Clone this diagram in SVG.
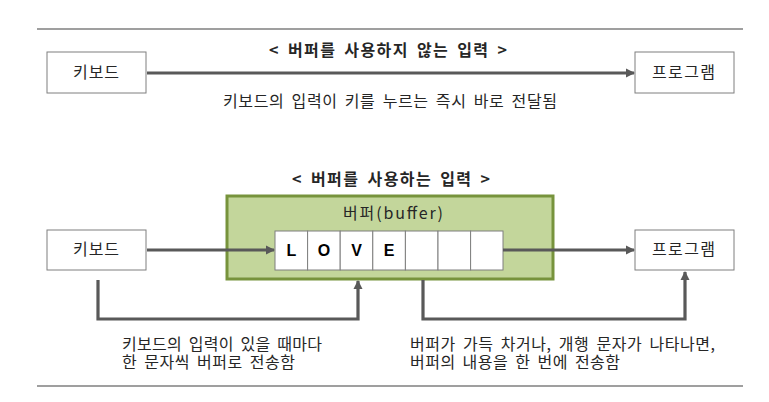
<svg xmlns="http://www.w3.org/2000/svg" width="769" height="402" viewBox="0 0 769 402">
<defs>
<marker id="ah" markerWidth="10" markerHeight="10" refX="8" refY="5" orient="auto" markerUnits="userSpaceOnUse">
<path d="M0,0.5 L9,5 L0,9.5 Z" fill="#595959"/>
</marker>
<style>
text{font-family:"Noto Sans CJK KR","Malgun Gothic",sans-serif;fill:#262626;font-size:16px;word-spacing:3px}
.t{font-weight:bold}
.box{fill:#fff;stroke:#7f7f7f;stroke-width:1}
.rule{stroke:#404040;stroke-width:1.2}
.con{fill:none;stroke:#595959;stroke-width:3.2;marker-end:url(#ah)}
.cell{fill:#fff;stroke:#7f7f7f;stroke-width:1}
.ltr{font-family:"Liberation Sans",Arial,sans-serif;font-weight:bold;font-size:16px;text-anchor:middle;fill:#000}
</style>
</defs>
<line class="rule" x1="37" y1="29" x2="743" y2="29"/>
<line class="rule" x1="37" y1="386" x2="743" y2="386"/>
<text class="t" x="269" y="56" textLength="238" lengthAdjust="spacing">&lt; 버퍼를 사용하지 않는 입력 &gt;</text>
<text x="223" y="107" textLength="334" lengthAdjust="spacing">키보드의 입력이 키를 누르는 즉시 바로 전달됨</text>
<text class="t" x="292" y="185" textLength="198" lengthAdjust="spacing">&lt; 버퍼를 사용하는 입력 &gt;</text>
<g id="kb1"><rect class="box" x="47" y="52" width="99" height="41"/><text x="73" y="78" textLength="46" lengthAdjust="spacing">키보드</text></g>
<g id="pg1"><rect class="box" x="635" y="52" width="99" height="41"/><text x="652" y="78" textLength="63" lengthAdjust="spacing">프로그램</text></g>
<g id="buffer">
<rect x="227" y="196" width="326" height="83" fill="#c3d69b" stroke="#77933c" stroke-width="3"/>
<text x="343" y="219" textLength="100" lengthAdjust="spacing">버퍼(buffer)</text>
<rect class="cell" x="275" y="231" width="32.6" height="39"/>
<rect class="cell" x="307.6" y="231" width="32.6" height="39"/>
<rect class="cell" x="340.2" y="231" width="32.6" height="39"/>
<rect class="cell" x="372.8" y="231" width="32.6" height="39"/>
<rect class="cell" x="405.4" y="231" width="32.6" height="39"/>
<rect class="cell" x="438" y="231" width="32.6" height="39"/>
<rect class="cell" x="470.6" y="231" width="32.4" height="39"/>
<text class="ltr" x="291.5" y="256">L</text>
<text class="ltr" x="324" y="256">O</text>
<text class="ltr" x="356.5" y="256">V</text>
<text class="ltr" x="389" y="256">E</text>
</g>
<g id="kb2"><rect class="box" x="47" y="230" width="99" height="40"/><text x="73" y="255" textLength="46" lengthAdjust="spacing">키보드</text></g>
<g id="pg2"><rect class="box" x="635" y="230" width="99" height="40"/><text x="652" y="255" textLength="63" lengthAdjust="spacing">프로그램</text></g>
<g id="connectors">
<line class="con" x1="147" y1="73" x2="634" y2="73"/>
<line class="con" x1="147" y1="250" x2="274" y2="250"/>
<line class="con" x1="503" y1="250" x2="634" y2="250"/>
<polyline class="con" points="98,280 98,319 358,319 358,281"/>
<polyline class="con" points="423,280 423,319 685,319 685,272"/>
</g>
<text><tspan x="122" y="350" textLength="200" lengthAdjust="spacing">키보드의 입력이 있을 때마다</tspan><tspan x="122" y="368" textLength="173" lengthAdjust="spacing">한 문자씩 버퍼로 전송함</tspan></text>
<text><tspan x="410" y="350" textLength="305" lengthAdjust="spacing">버퍼가 가득 차거나, 개행 문자가 나타나면,</tspan><tspan x="410" y="368" textLength="210" lengthAdjust="spacing">버퍼의 내용을 한 번에 전송함</tspan></text>
</svg>
